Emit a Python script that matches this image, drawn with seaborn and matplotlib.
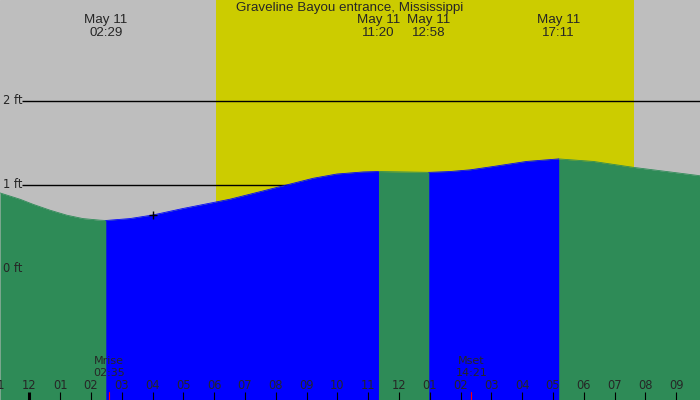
import numpy as np
import pandas as pd
import seaborn as sns
import matplotlib
matplotlib.use("Agg")
import matplotlib.pyplot as plt

# tide height readings (hours after midnight May 11, feet)
curve_hours = [-0.95, -0.30, 0.12, 0.67, 1.22, 1.74, 2.29, 3.27, 4.02, 4.99, 5.96, 6.51,
               7.60, 8.35, 9.22, 9.98, 10.84, 12.14, 13.66, 14.31, 15.06, 16.14, 18.31,
               19.60, 20.69, 21.77]
curve_ft = [0.905, 0.83, 0.77, 0.70, 0.64, 0.60, 0.581, 0.60, 0.643, 0.72, 0.79, 0.83,
            0.93, 1.00, 1.08, 1.13, 1.155, 1.155, 1.16, 1.18, 1.22, 1.28, 1.28,
            1.21, 1.16, 1.11]

# high / low tides
tide_dates = ["May 11", "May 11", "May 11", "May 11"]
tide_times = ["02:29", "11:20", "12:58", "17:11"]
tide_ft = [0.577, 1.16, 1.15, 1.31]

sun_times = ["06:04", "19:37"]
moon_labels = ["Mrise", "Mset"]
moon_times = ["02:35", "14:21"]
now_time = "04:01"
now_ft = 0.64

hour_ticks = list(range(-1, 22))
ft_levels = [0, 1, 2]
title = "Graveline Bayou entrance, Mississippi"

GRAY = "#bebebe"
YELLOW = "#cccc00"
GREEN = "#2e8b57"
BLUE = "#0000ff"


def to_hours(s):
    hh, mm = s.split(":")
    return int(hh) + int(mm) / 60


tide_h = [to_hours(t) for t in tide_times]
hrs = np.array(curve_hours + tide_h)
fts = np.array(curve_ft + tide_ft)
order = np.argsort(hrs)
hrs, fts = hrs[order], fts[order]

# split into rising / falling segments between extremes
bounds = [hrs[0]] + tide_h + [hrs[-1]]
rows = []
for i in range(len(bounds) - 1):
    m = (hrs >= bounds[i] - 1e-9) & (hrs <= bounds[i + 1] + 1e-9)
    phase = "rise" if fts[m][-1] > fts[m][0] else "fall"
    for h, f in zip(hrs[m], fts[m]):
        rows.append({"hour": h, "ft": f, "seg": i, "phase": phase})
df = pd.DataFrame(rows)

sns.set_style("white")
plt.rcParams["font.family"] = ["DejaVu Sans"]

fig = plt.figure(figsize=(7, 4), dpi=100)
ax = fig.add_axes([0, 0, 1, 1])
x0, x1 = -0.951, 21.77
y0, y1 = -1.56, 3.202
ax.add_patch(plt.Rectangle((0, 0), 1, 1, transform=ax.transAxes, color=GRAY, zorder=-2))

ax.axvspan(to_hours(sun_times[0]), to_hours(sun_times[1]), color=YELLOW, lw=0, zorder=0)

# level lines (behind water)
ax.hlines(ft_levels, -0.237, x1, color="black", lw=1.0, zorder=1)

ax.fill_between(hrs, fts, y0, color=GREEN, lw=0, zorder=2)
for seg, g in df.groupby("seg"):
    if g["phase"].iloc[0] == "rise":
        ax.fill_between(g["hour"], g["ft"], y0, color=BLUE, lw=0, zorder=3)
sns.lineplot(data=df, x="hour", y="ft", hue="phase", units="seg", estimator=None,
             palette={"rise": BLUE, "fall": GREEN}, lw=0.6, legend=False, ax=ax, zorder=4)
ax.set_xlim(x0, x1)
ax.set_ylim(y0, y1)
ax.axis("off")

for lv in ft_levels:
    ax.annotate(f"{lv} ft", (0.004, lv), xycoords=("axes fraction", "data"),
                ha="left", va="center", fontsize=8.3, zorder=6)

ax.plot([to_hours(now_time)], [now_ft], marker="+", ms=6, mew=1, color="black", zorder=6)

# hour ticks and labels along the bottom
xt = ax.get_xaxis_transform()
for h in hour_ticks:
    lw = 2.2 if h % 24 == 0 else 0.8
    ax.plot([h, h], [0, 0.02], transform=xt, color="black", lw=lw, zorder=6,
            solid_capstyle="butt")
    lab = "%02d" % ((h % 12) or 12)
    ax.annotate(lab, (h, 14.5), xycoords=("data", "figure pixels"), ha="center",
                va="center", fontsize=8.3, zorder=6)

for lab, t in zip(moon_labels, moon_times):
    h = to_hours(t)
    ax.plot([h, h], [0, 0.02], transform=xt, color="red", lw=0.8, zorder=6)
    ax.annotate(lab, (h, 39), xycoords=("data", "figure pixels"), ha="center",
                va="center", fontsize=8, zorder=6)
    ax.annotate(t, (h, 27.5), xycoords=("data", "figure pixels"), ha="center",
                va="center", fontsize=8, zorder=6)

top_font = ["Liberation Sans", "DejaVu Sans"]
ax.annotate(title, (0.5, 391.5), xycoords=("axes fraction", "figure pixels"),
            ha="center", va="center", fontsize=9.6, family=top_font, zorder=6)
for d, t, h in zip(tide_dates, tide_times, tide_h):
    ax.annotate(d, (h, 380.5), xycoords=("data", "figure pixels"), ha="center",
                va="center", fontsize=9.6, family=top_font, zorder=6)
    ax.annotate(t, (h, 367), xycoords=("data", "figure pixels"), ha="center",
                va="center", fontsize=9.6, family=top_font, zorder=6)

fig.savefig("out.png", dpi=100)
